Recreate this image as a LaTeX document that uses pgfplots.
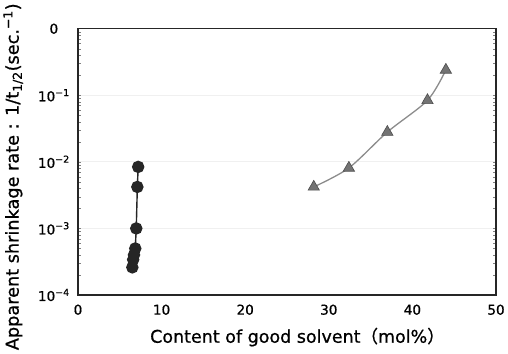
\documentclass[border=0pt]{standalone}
\usepackage{fontspec}
\setmainfont{DejaVu Sans}[UprightFeatures={FakeBold=0.8}]
\newfontfamily\cjk{Noto Sans CJK JP}[UprightFeatures={FakeBold=0.8}]
\usepackage{pgfplots}
\pgfplotsset{compat=1.18}
\definecolor{tri}{gray}{0.45}
\definecolor{triline}{gray}{0.55}
\begin{document}
\begin{tikzpicture}
\begin{axis}[
  scale only axis,
  width=416pt, height=265pt,
  xmin=0, xmax=50, ymode=log, ymin=1e-4, ymax=1,
  xtick={0,10,20,30,40,50},
  ytick={1e-4,1e-3,1e-2,1e-1,1},
  yticklabels={10\textsuperscript{−4},10\textsuperscript{−3},10\textsuperscript{−2},10\textsuperscript{−1},0},
  /pgf/number format/assume math mode=true,
  xticklabel style={font=\fontsize{13.5}{15}\selectfont, yshift=-6pt},
  yticklabel style={font=\fontsize{13.5}{15}\selectfont, anchor=center, xshift=-24pt},
  major tick length=0pt,
  ymajorgrids, grid style={gray!12, line width=0.8pt},
  axis line style={black!85, line width=1.2pt},
  xlabel={Content of good solvent{\cjk （}mol\%{\cjk ）}},
  xlabel style={font=\fontsize{17.4}{19}\selectfont, at={(axis description cs:0.525,-0.158)}, anchor=center},
  ylabel={Apparent shrinkage rate : 1/t\textsubscript{1/2}(sec.\textsuperscript{−1})},
  ylabel style={font=\fontsize{17.6}{19}\selectfont, at={(axis description cs:-0.155,0.444)}, anchor=center},
]
\addplot[black!85, line width=1.4pt, mark=*, mark size=5.5pt, mark options={fill=black!85, draw=black!85}]
coordinates {(6.5,0.00026) (6.6,0.00034) (6.7,0.0004) (6.85,0.0005) (6.97,0.001) (7.1,0.0042) (7.2,0.0084)};
\addplot[triline, line width=1.3pt, smooth, tension=0.5, mark=triangle*, mark size=6.5pt, mark options={fill=tri, draw=black!70, line width=0.6pt}]
coordinates {(28.2,0.0042) (32.4,0.0081) (37.0,0.028) (41.8,0.084) (44.0,0.24)};
\end{axis}
\end{tikzpicture}
\end{document}
